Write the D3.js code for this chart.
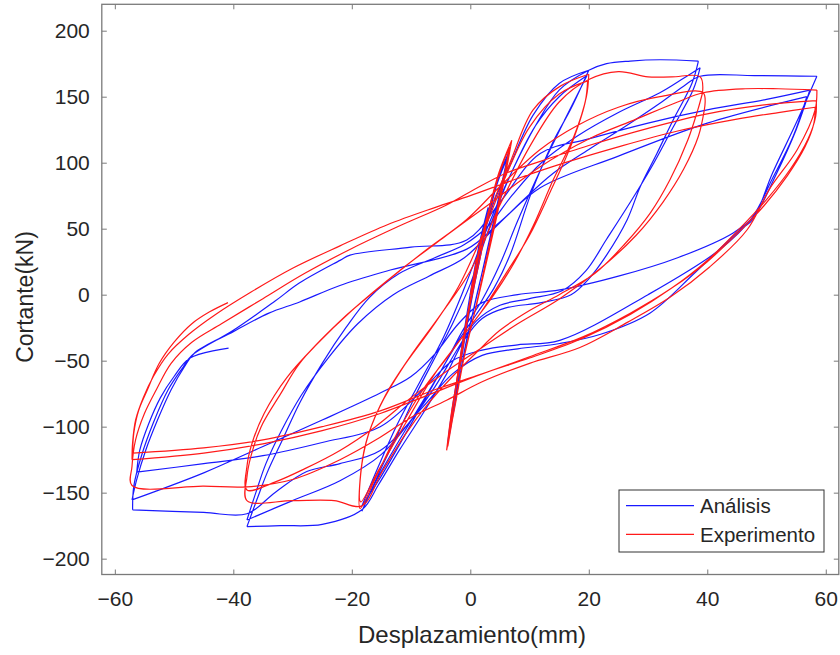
<!DOCTYPE html>
<html><head><meta charset="utf-8">
<script src="https://cdn.jsdelivr.net/npm/d3@7"></script>
<style>
html,body{margin:0;padding:0;background:#fff;}
svg{display:block;font-family:"Liberation Sans",Arial,Helvetica,sans-serif;}
</style></head>
<body>
<svg id="chart" width="840" height="655"></svg>
<script>
// ---------- data (displacement mm, shear kN) ----------
const xTicks = [-60,-40,-20,0,20,40,60];
const yTicks = [-200,-150,-100,-50,0,50,100,150,200];
const seriesNames = ["Análisis","Experimento"];

// Análisis (blue)
const anaSmall = [[0,0],[1.5,38],[3,66],[2.1,38],[0.6,5],[-1,-35],[-2.6,-78],[-1.7,-48],[-0.4,-10],[1.2,30],[3.2,66],[5,92],[6.5,108],[5.2,82],[3.4,45],[1.4,5],[-0.8,-38],[-2.4,-78],[-3.8,-112],[-2.9,-82],[-1.4,-42],[0.4,2],[2.4,46],[4.6,85],[6.3,104],[4.8,72],[2.8,32],[0.6,-10],[-1.5,-55],[-3.6,-108]];
const anaC20 = [[-2.6,-75],[-1.2,-38],[0.3,2],[1.8,36],[3.8,68],[6.7,98],[10.6,136],[15,160],[20,170],
 [17,141],[14,116],[10.2,76],[6.7,30],[4,5],[1,-15],[-2,-35],[-5,-58],[-9,-88],[-13,-118],[-16,-142],[-18.3,-164],
 [-15.2,-133],[-12,-103],[-9,-74],[-6,-48],[-3,-22],[0,8],[3,48],[7,93],[11,128],[15,150],[19.7,166],
 [16,133],[12,96],[8,56],[5,23],[2,-4],[-1,-25],[-4,-50],[-8,-82],[-12,-114],[-15.5,-141],[-18.3,-160]];
const anaC40 = [[-15.5,-130],[-12.3,-98],[-8.5,-66],[-4.5,-32],[-1,5],[3,52],[7,93],[11,128],[15,155],[20,170],[23,175],[27,177],[32,178],[38.5,177],
 [37.4,160],[34.2,132],[31.5,107],[28.7,82],[26.5,57],[23,30],[20,12],[17,0],[12,-6],[6,-10],[2,-18],[-1,-34],[-4,-60],[-8,-90],[-12,-118],[-15.5,-144],[-18.3,-163],[-25,-174],[-32,-175],[-37.7,-175.7],
 [-36,-155],[-34.3,-135],[-31.5,-108],[-28.8,-82],[-25,-52],[-21,-25],[-17,-2],[-12,16],[-6,28],[-1,38],[3,52],[7,75],[12,100],[18,120],[25,138],[32,153],[36,164],[38.8,172],
 [37.6,155],[34,125],[30.5,96],[27,70],[23,42],[19.5,18],[15.5,3],[10,-3],[5,-8],[1,-20],[-2,-40],[-6,-70],[-10,-95],[-15,-121],[-22,-141],[-30,-156],[-37.7,-170.7]];
const anaC60 = [[-36.2,-150],[-34.5,-128],[-32,-104],[-28.5,-76],[-24,-48],[-19,-22],[-13,0],[-7,14],[-1,28],[4,50],[9,72],[14,92],[20,110],[26,127],[32,145],[36,158],[38.8,165.5],[48,166],[58.5,165.5],
 [55,130],[51,92],[47.7,57],[45.5,49],[38,17],[30.3,-14],[22,-30],[15.1,-37],[8,-41],[2,-46],[-3,-60],[-8,-85],[-15.2,-118],[-22,-128],[-27.6,-134],[-33,-150],[-37.7,-166],[-45,-165],[-57,-163],
 [-56.8,-145],[-55.5,-122],[-53.5,-97],[-51,-72],[-48.5,-55],[-47,-46],[-40,-27],[-33,-5],[-28.8,9],[-22,26],[-20.3,30],[-10,36],[-0.6,41.4],[5,70],[11.8,107],[20,118],[30,130],[40,140],[50,148],[57.3,155],
 [55,125],[51.5,90],[48,60],[44.3,46.6],[35,28],[25,14],[15.1,3.6],[8,0],[2,-6],[-2,-22],[-6,-45],[-10,-62],[-15.2,-74.5],[-25,-95],[-35,-115],[-45,-135],[-57.1,-155.5],
 [-56.3,-140],[-54.8,-118],[-52.8,-95],[-50.5,-72],[-48.3,-55],[-46.5,-44],[-40,-28],[-34,-14],[-28.8,-5.5],[-22,7],[-13.5,18.7],[-0.6,34.5],[5,55],[11.8,81],[25,105],[40,130],[56.8,150],
 [54.5,120],[51,88],[47.5,58],[42,33.8],[30,0],[15.1,-34.6],[8,-38],[2,-42],[-3,-50],[-8,-72],[-15.2,-100],[-25,-112],[-35,-122],[-45,-128],[-56.3,-134.5],
 [-55.8,-118],[-54.3,-98],[-52.3,-78],[-50,-62],[-47.3,-48],[-40.8,-40.5]];

// Experimento (red)
const expSmall = [[0,0],[1.5,35],[3,62],[2.2,40],[0.8,10],[-0.8,-25],[-2.5,-72],[-1.8,-50],[-0.6,-18],[0.8,15],[2.8,58],[4.8,92],[7,117],[6.1,95],[4.6,62],[3,30],[1.2,-5],[-0.8,-42],[-2.4,-80],[-4,-118],[-3.2,-90],[-2,-58],[-0.6,-20],[0.9,18],[2.8,58],[4.8,90],[6.6,112],[5.7,90],[4.2,58],[2.6,25],[0.8,-12],[-1.4,-55],[-3.8,-115]];
const expC20 = [[-3,-88],[-1.6,-50],[-0.2,-12],[1.2,25],[3.2,62],[6.7,100],[10.6,140],[15.2,158],[20,167],
 [19.6,150],[17.5,120],[14,87],[10.6,52],[7.5,25],[4,0],[0,-24],[-4,-48],[-8,-72],[-12,-102],[-15.8,-137],[-18.6,-162],
 [-18.6,-140],[-17.6,-112],[-15.3,-85],[-11.5,-56],[-6.5,-25],[-2,6],[2,45],[6,90],[10,127],[15,152],[19.8,162],
 [19.4,146],[17,113],[13.5,78],[10,45],[6,16],[2,-12],[-2,-36],[-6,-60],[-11,-98],[-15.5,-133],[-18.5,-157]];
const expC40 = [[-18.5,-136],[-17.2,-106],[-14.3,-76],[-10,-46],[-5,-15],[0,18],[5,68],[10,112],[15,146],[20,163],[25,169],[30,165],[34,165],[38.8,165],
 [39.2,153],[38.4,140],[36.7,117],[33.7,87],[30.4,62],[26,38],[21,16],[15,0],[10,-12],[5,-27],[1,-44],[-3,-62],[-7,-82],[-11,-106],[-15,-135],[-18.3,-160],[-23,-156],[-30,-156],[-37.7,-156],
 [-37.7,-138],[-37,-122],[-35.3,-100],[-32,-75],[-28.8,-52],[-22,-20],[-15.2,6],[-8,32],[-0.6,57],[5,82],[11.8,110],[18,128],[25,142],[32,150],[39.3,153],
 [39.5,140],[38.5,120],[36,95],[32.5,70],[28,45],[22,20],[15.1,-3],[8,-22],[2,-40],[-4,-58],[-10,-78],[-16,-100],[-22,-118],[-28,-132],[-33,-142],[-37.7,-148]];
const expC60 = [[-37.7,-130],[-36.8,-112],[-34.8,-90],[-31,-63],[-26,-38],[-20,-12],[-12,18],[-4,45],[3,68],[11.8,97],[20,118],[28,133],[35,146],[39.3,153],[46.4,156],[52,156],[58.5,155],
 [58.2,140],[55.2,110],[50.5,80],[46.7,49],[40.4,21],[33.7,-2],[26.5,-21],[18.5,-40],[10,-52],[2,-66],[-4,-80],[-10,-93],[-15.2,-108],[-22,-125],[-30,-140],[-37.7,-145.6],[-45,-145],[-57.1,-144.6],
 [-57.1,-130],[-56.5,-110],[-55,-90],[-53,-72],[-50.5,-52],[-47,-36],[-42,-22],[-35,-3],[-28,16],[-20,35],[-12,52],[-4,68],[0,78],[6,92],[11.8,101],[20,113],[30,126],[40,137],[50,144],[58.4,147],
 [58.3,135],[57,118],[54,95],[50,72],[45,48],[40,26],[34,5],[27,-15],[19,-33],[10,-48],[2,-60],[-6,-74],[-15.2,-90],[-25,-103],[-35,-113],[-45,-120],[-57.1,-125],
 [-57,-112],[-56.5,-95],[-55.2,-78],[-53.5,-62],[-51,-45],[-47.5,-30],[-43,-15],[-37,2],[-30,20],[-22,37],[-14,53],[-6,66],[0,75],[8,88],[16,100],[25,112],[35,124],[45,133],[52,138],[58.2,142],
 [58,130],[56.5,112],[53.5,90],[49.5,67],[45,46],[40,25],[34,5],[27,-14],[19,-32],[10,-47],[2,-60],[-6,-72],[-15.2,-88],[-25,-100],[-35,-110],[-45,-116],[-57,-120],
 [-56.8,-105],[-56,-88],[-54.5,-72],[-52.5,-52],[-50,-36],[-47,-22],[-44,-13],[-40.9,-6]];

const analisis = [].concat(anaSmall, anaC20, anaC40, anaC60);
const experimento = [].concat(expSmall, expC20, expC40, expC60);

// ---------- chart ----------
const svg = d3.select("#chart");
const x = d3.scaleLinear().domain([-62.2, 62.2]).range([101.8, 838.8]);
const y = d3.scaleLinear().domain([-212, 220]).range([574.5, 4.3]);
const axisColor = "#7a7a7a", textColor = "#262626";

const seg = d3.line().x(d => x(d[0])).y(d => y(d[1])).curve(d3.curveCatmullRom.alpha(0.5));
// split the loading path at displacement reversals so peaks stay sharp corners
function pathD(pts){
  const parts = []; let cur = [pts[0]];
  for (let i = 1; i < pts.length; i++){
    cur.push(pts[i]);
    if (i < pts.length-1){
      const a = pts[i][0]-pts[i-1][0], b = pts[i+1][0]-pts[i][0];
      if (a*b < 0){ parts.push(cur); cur = [pts[i]]; }
    }
  }
  parts.push(cur);
  return parts.map(p => seg(p)).join("");
}

svg.append("clipPath").attr("id","clip").append("rect")
  .attr("x", x.range()[0]).attr("y", y.range()[1])
  .attr("width", x.range()[1]-x.range()[0]).attr("height", y.range()[0]-y.range()[1]);

const plot = svg.append("g").attr("clip-path","url(#clip)");
plot.append("path").attr("d", pathD(analisis))
  .attr("fill","none").attr("stroke","#1a1aff").attr("stroke-width",1.2).attr("stroke-linejoin","round");
plot.append("path").attr("d", pathD(experimento))
  .attr("fill","none").attr("stroke","#ff1a1a").attr("stroke-width",1.2).attr("stroke-linejoin","round");

function styleAxis(g){
  g.select(".domain").remove();
  g.selectAll(".tick line").attr("stroke", axisColor);
  g.selectAll(".tick text").attr("fill", textColor).style("font-size","21px")
   .style("font-family","'Liberation Sans',Arial,Helvetica,sans-serif");
}
svg.append("g").attr("transform",`translate(0,${y.range()[0]})`)
  .call(d3.axisBottom(x).tickValues(xTicks).tickSizeInner(-5).tickSizeOuter(0).tickPadding(17))
  .call(styleAxis);
svg.append("g").attr("transform",`translate(0,${y.range()[1]})`)
  .call(d3.axisTop(x).tickValues(xTicks).tickSizeInner(-5).tickSizeOuter(0).tickFormat(""))
  .call(styleAxis);
svg.append("g").attr("transform",`translate(${x.range()[0]},0)`)
  .call(d3.axisLeft(y).tickValues(yTicks).tickSizeInner(-5).tickSizeOuter(0).tickPadding(12))
  .call(styleAxis);
svg.append("g").attr("transform",`translate(${x.range()[1]},0)`)
  .call(d3.axisRight(y).tickValues(yTicks).tickSizeInner(-5).tickSizeOuter(0).tickFormat(""))
  .call(styleAxis);

svg.append("rect").attr("x", x.range()[0]).attr("y", y.range()[1])
  .attr("width", x.range()[1]-x.range()[0]).attr("height", y.range()[0]-y.range()[1])
  .attr("fill","none").attr("stroke", axisColor).attr("stroke-width",1.3);

svg.append("text").attr("x", 472).attr("y", 643).attr("text-anchor","middle")
  .attr("fill", textColor).style("font-size","24px").text("Desplazamiento(mm)");
svg.append("text").attr("transform","translate(33,297) rotate(-90)").attr("text-anchor","middle")
  .attr("fill", textColor).style("font-size","23px").text("Cortante(kN)");

// legend
const lg = svg.append("g");
lg.append("rect").attr("x",619).attr("y",490).attr("width",205).attr("height",62)
  .attr("fill","#fff").attr("stroke","#333").attr("stroke-width",1);
const colors = ["#1a1aff","#ff1a1a"];
seriesNames.forEach((n,i) => {
  const yy = 505.7 + i*28.6;
  lg.append("line").attr("x1",626).attr("x2",694).attr("y1",yy).attr("y2",yy)
    .attr("stroke",colors[i]).attr("stroke-width",1.2);
  lg.append("text").attr("x",700).attr("y",yy+7.5).attr("fill",textColor)
    .style("font-size","20.5px").text(n);
});
</script>
</body></html>
